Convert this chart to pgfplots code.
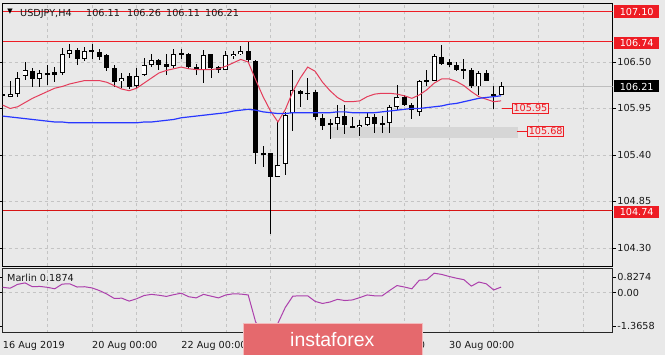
\documentclass[border=0pt]{standalone}
\usepackage{pgfplots}
\pgfplotsset{compat=1.18}
\usepackage{pgfplotstable}
\usepackage{fontspec}
\setmainfont{DejaVu Sans}
\newfontfamily\wmfont{Liberation Sans}

\definecolor{bg}{RGB}{233,233,233}
\definecolor{gridc}{RGB}{196,196,196}
\definecolor{lvl}{RGB}{238,28,36}
\definecolor{lvldark}{RGB}{215,20,20}
\definecolor{mared}{RGB}{228,60,90}
\definecolor{mablue}{RGB}{40,55,255}
\definecolor{marlinc}{RGB}{172,64,172}
\definecolor{txt}{RGB}{25,25,25}
\definecolor{band}{RGB}{214,214,214}
\definecolor{wm}{RGB}{229,105,109}
\definecolor{pricel}{RGB}{190,190,190}
\definecolor{tagfill}{RGB}{240,226,226}

\pgfplotstableread{
i o h l c
0 106.12 106.17 106.05 106.11
1 106.09 106.28 106.08 106.12
2 106.12 106.38 106.09 106.31
3 106.33 106.50 106.29 106.41
4 106.39 106.43 106.21 106.30
5 106.30 106.41 106.20 106.37
6 106.36 106.47 106.23 106.36
7 106.38 106.44 106.27 106.35
8 106.37 106.66 106.35 106.59
9 106.59 106.71 106.55 106.64
10 106.64 106.66 106.46 106.54
11 106.54 106.68 106.51 106.63
12 106.63 106.71 106.54 106.63
13 106.62 106.65 106.52 106.56
14 106.58 106.59 106.39 106.43
15 106.43 106.46 106.21 106.27
16 106.27 106.37 106.19 106.31
17 106.33 106.37 106.18 106.20
18 106.21 106.43 106.19 106.33
19 106.35 106.55 106.34 106.47
20 106.47 106.60 106.44 106.52
21 106.53 106.54 106.41 106.46
22 106.48 106.59 106.35 106.44
23 106.45 106.65 106.43 106.59
24 106.60 106.65 106.54 106.60
25 106.60 106.61 106.42 106.44
26 106.44 106.48 106.35 106.41
27 106.40 106.64 106.25 106.58
28 106.59 106.59 106.31 106.43
29 106.44 106.45 106.37 106.41
30 106.41 106.63 106.41 106.58
31 106.57 106.63 106.54 106.60
32 106.59 106.69 106.58 106.63
33 106.63 106.74 106.50 106.52
34 106.51 106.52 105.29 105.42
35 105.42 105.51 105.26 105.41
36 105.42 105.43 104.46 105.14
37 105.14 105.79 105.14 105.28
38 105.29 105.91 105.16 105.87
39 105.90 106.41 105.68 106.17
40 106.16 106.17 105.97 106.12
41 106.13 106.31 106.05 106.13
42 106.14 106.17 105.81 105.85
43 105.84 105.88 105.70 105.74
44 105.78 105.83 105.59 105.75
45 105.77 105.99 105.69 105.85
46 105.86 105.99 105.65 105.75
47 105.74 105.85 105.72 105.73
48 105.73 105.81 105.62 105.76
49 105.75 105.90 105.74 105.85
50 105.85 105.89 105.66 105.77
51 105.77 105.86 105.66 105.77
52 105.78 105.99 105.66 105.97
53 105.97 106.23 105.93 106.09
54 106.09 106.11 105.98 105.99
55 105.99 106.02 105.83 105.93
56 105.91 106.29 105.86 106.28
57 106.28 106.41 106.21 106.28
58 106.28 106.60 106.27 106.57
59 106.56 106.70 106.46 106.48
60 106.50 106.54 106.44 106.46
61 106.46 106.50 106.39 106.41
62 106.40 106.54 106.30 106.42
63 106.41 106.43 106.19 106.21
64 106.21 106.39 106.11 106.37
65 106.37 106.41 106.27 106.28
66 106.12 106.22 105.94 106.11
67 106.11 106.26 106.11 106.21
}\candles

\pgfplotstableread{
i r b
0 105.99 105.86
1 105.95 105.85
2 105.97 105.84
3 106.02 105.83
4 106.07 105.82
5 106.11 105.81
6 106.15 105.80
7 106.19 105.79
8 106.21 105.79
9 106.24 105.78
10 106.26 105.78
11 106.28 105.78
12 106.28 105.78
13 106.28 105.78
14 106.26 105.78
15 106.22 105.78
16 106.18 105.78
17 106.16 105.78
18 106.19 105.78
19 106.25 105.79
20 106.31 105.79
21 106.37 105.80
22 106.40 105.81
23 106.42 105.82
24 106.44 105.84
25 106.42 105.85
26 106.41 105.86
27 106.41 105.87
28 106.41 105.88
29 106.42 105.89
30 106.45 105.90
31 106.49 105.92
32 106.53 105.93
33 106.50 105.94
34 106.29 105.93
35 106.09 105.91
36 105.92 105.90
37 105.79 105.89
38 105.94 105.89
39 106.15 105.90
40 106.31 105.90
41 106.44 105.90
42 106.39 105.90
43 106.26 105.90
44 106.16 105.90
45 106.08 105.91
46 106.03 105.91
47 106.03 105.90
48 106.04 105.90
49 106.09 105.90
50 106.12 105.90
51 106.13 105.91
52 106.13 105.92
53 106.12 105.93
54 106.10 105.94
55 106.07 105.95
56 106.11 105.95
57 106.17 105.96
58 106.25 105.97
59 106.30 105.98
60 106.30 106.00
61 106.27 106.01
62 106.22 106.03
63 106.15 106.05
64 106.09 106.07
65 106.06 106.08
66 106.03 106.09
67 106.04 106.10
}\mas

\pgfplotstableread{
i m
0 0.18
1 0.15
2 0.28
3 0.33
4 0.20
5 0.21
6 0.18
7 0.13
8 0.29
9 0.30
10 0.19
11 0.20
12 0.16
13 0.07
14 -0.05
15 -0.20
16 -0.19
17 -0.29
18 -0.21
19 -0.10
20 -0.06
21 -0.09
22 -0.13
23 -0.07
24 -0.02
25 -0.14
26 -0.18
27 -0.06
28 -0.12
29 -0.18
30 -0.08
31 -0.04
32 -0.05
33 -0.08
34 -1.00
35 -1.3658
36 -1.25
37 -1.04
38 -0.50
39 -0.12
40 -0.11
41 -0.11
42 -0.30
43 -0.37
44 -0.32
45 -0.23
46 -0.27
47 -0.25
48 -0.17
49 -0.08
50 -0.11
51 -0.11
52 0.07
53 0.24
54 0.19
55 0.13
56 0.42
57 0.44
58 0.66
59 0.62
60 0.55
61 0.49
62 0.44
63 0.22
64 0.36
65 0.30
66 0.09
67 0.1874
}\marlin

\pgfplotsset{
  candle part/.style={only marks, mark=*, mark size=0pt,
    mark options={draw=none, fill=none}, forget plot},
}

\begin{document}
\begin{tikzpicture}[font=\fontsize{9.7}{11}\selectfont]
\fill[bg] (0,0) rectangle (665bp,-355bp);

\begin{axis}[
  at={(2.7bp,-3bp)}, anchor=north west,
  scale only axis, width=610bp, height=263bp,
  xmin=0, xmax=82, ymin=104.086, ymax=107.198,
  axis line style={draw=black, line width=0.8bp},
  xtick={0,6,...,78}, xticklabels={}, xtick style={draw=none},
  xmajorgrids, ymajorgrids,
  major grid style={gridc, dash pattern=on 3bp off 3bp, line width=0.6bp},
  ytick={104.30,104.85,105.40,105.95,106.50},
  yticklabels={104.30,104.85,105.40,105.95,106.50},
  yticklabel pos=right,
  ytick style={draw=black, line width=0.7bp},
  tick align=outside, major tick length=3.5bp,
  yticklabel style={anchor=west, text=txt, inner sep=0pt, xshift=1bp},
]
% support band
\draw[draw=none, fill=band] (axis cs:44,105.60) rectangle (axis cs:69.3,105.73);
% level lines
\addplot[lvl, line width=1.2bp, forget plot] coordinates {(0,107.10) (82,107.10)};
\addplot[lvl, line width=1.2bp, forget plot] coordinates {(0,106.74) (82,106.74)};
\addplot[lvldark, line width=0.9bp, forget plot] coordinates {(0,104.74) (82,104.74)};
\addplot[pricel, line width=0.7bp, forget plot] coordinates {(0,106.21) (82,106.21)};
% wicks
\addplot[candle part,
  error bars/.cd, y dir=both, y explicit, error mark=none,
  error bar style={line width=0.9bp, black}]
  table[x=i, y expr={(\thisrow{h}+\thisrow{l})/2}, y error expr={(\thisrow{h}-\thisrow{l})/2}] {\candles};
% bodies (outline / black)
\addplot[candle part,
  error bars/.cd, y dir=both, y explicit, error mark=none,
  error bar style={line width=5bp, black}]
  table[x=i, y expr={(\thisrow{o}+\thisrow{c})/2}, y error expr={max(abs(\thisrow{c}-\thisrow{o})/2,0.0065)}] {\candles};
% white interiors for rising candles
\addplot[candle part,
  error bars/.cd, y dir=both, y explicit, error mark=none,
  error bar style={line width=3.2bp, white}]
  table[x=i, y expr={(\thisrow{o}+\thisrow{c})/2}, y error expr={\thisrow{c}>\thisrow{o}+0.025 ? (\thisrow{c}-\thisrow{o})/2-0.0118 : 0}] {\candles};
% moving averages
\addplot[mared, line width=1bp, mark=none] table[x=i, y=r] {\mas};
\addplot[mablue, line width=1.2bp, mark=none] table[x=i, y=b] {\mas};
% tags
\draw[lvl, line width=0.8bp] (axis cs:67.1,105.95) -- (axis cs:68.45,105.95)
  node[anchor=west, draw=lvl, fill=tagfill, text=lvl, inner xsep=1.2bp, inner ysep=1.6bp, line width=0.8bp] {105.95};
\draw[lvl, line width=0.8bp] (axis cs:69.1,105.68) -- (axis cs:70.5,105.68)
  node[anchor=west, draw=lvl, fill=tagfill, text=lvl, inner xsep=1.2bp, inner ysep=1.6bp, line width=0.8bp] {105.68};
\coordinate (p107) at (axis cs:82,107.10);
\coordinate (p106) at (axis cs:82,106.74);
\coordinate (pcur) at (axis cs:82,106.21);
\coordinate (p104) at (axis cs:82,104.74);
\end{axis}

\node[fill=lvl, text=white, anchor=west, minimum width=45bp, minimum height=13bp, inner sep=0pt] at ([xshift=1.3bp,yshift=-0.7bp]p107) {107.10};
\node[fill=lvl, text=white, anchor=west, minimum width=45bp, minimum height=12bp, inner sep=0pt] at ([xshift=1.3bp,yshift=-1bp]p106) {106.74};
\node[fill=black, text=white, anchor=west, minimum width=45bp, minimum height=12bp, inner sep=0pt] at ([xshift=1.3bp]pcur) {106.21};
\node[fill=lvl, text=white, anchor=west, minimum width=45bp, minimum height=12bp, inner sep=0pt] at ([xshift=1.3bp,yshift=-1bp]p104) {104.74};

% title
\node[anchor=center, inner sep=0pt, font=\fontsize{7}{7}\selectfont] at (10bp,-12bp) {▼};
\node[anchor=base west, inner sep=0pt, text=txt] at (20bp,-16.3bp) {USDJPY,H4};
\node[anchor=base west, inner sep=0pt, text=txt] at (86bp,-16.3bp) {106.11};
\node[anchor=base west, inner sep=0pt, text=txt] at (127bp,-16.3bp) {106.26};
\node[anchor=base west, inner sep=0pt, text=txt] at (166bp,-16.3bp) {106.11};
\node[anchor=base west, inner sep=0pt, text=txt] at (205bp,-16.3bp) {106.21};

\begin{axis}[
  at={(2.7bp,-268.3bp)}, anchor=north west,
  scale only axis, width=610bp, height=64.4bp,
  xmin=0, xmax=82, ymin=-1.3658, ymax=0.8274,
  axis line style={draw=black!85, line width=0.8bp},
  xtick={0,6,...,78}, xticklabels={}, xtick style={draw=none},
  xmajorgrids,
  major grid style={gridc, dash pattern=on 3bp off 3bp, line width=0.6bp},
  extra x ticks={0,12,24,48,60},
  extra x tick labels={16 Aug 2019,20 Aug 00:00,22 Aug 00:00,28 Aug 00:00,30 Aug 00:00},
  extra x tick style={grid=none, xticklabel style={anchor=north west, inner sep=0pt, text=txt, yshift=-5bp}},
  ytick={0.531,0,-1.138}, yticklabels={0.8274,0.00,-1.3658},
  yticklabel pos=right,
  ytick style={draw=black, line width=0.7bp},
  tick align=outside, major tick length=3.5bp,
  yticklabel style={anchor=west, text=txt, inner sep=0pt, xshift=1bp},
  clip=true,
]
\addplot[gridc, dash pattern=on 3bp off 3bp, line width=0.6bp, forget plot] coordinates {(0,0) (82,0)};
\addplot[marlinc, line width=1bp, mark=none] table[x=i, y=m] {\marlin};
\end{axis}
\node[anchor=base west, inner sep=0pt, text=txt] at (7bp,-281.7bp) {Marlin 0.1874};

% watermark
\fill[wm] (243bp,-323bp) rectangle (422bp,-356bp);
\draw[white!55!wm, line width=0.8bp] (243bp,-356bp) -- (243bp,-323bp) -- (422bp,-323bp) -- (422bp,-356bp);
\node[anchor=base west, inner sep=0pt, text=white, font=\wmfont\fontsize{19.5}{20}\selectfont] at (290bp,-346bp) {instaforex};

\pgfresetboundingbox
\path[use as bounding box] (0,0) rectangle (665bp,-355bp);
\end{tikzpicture}
\end{document}
